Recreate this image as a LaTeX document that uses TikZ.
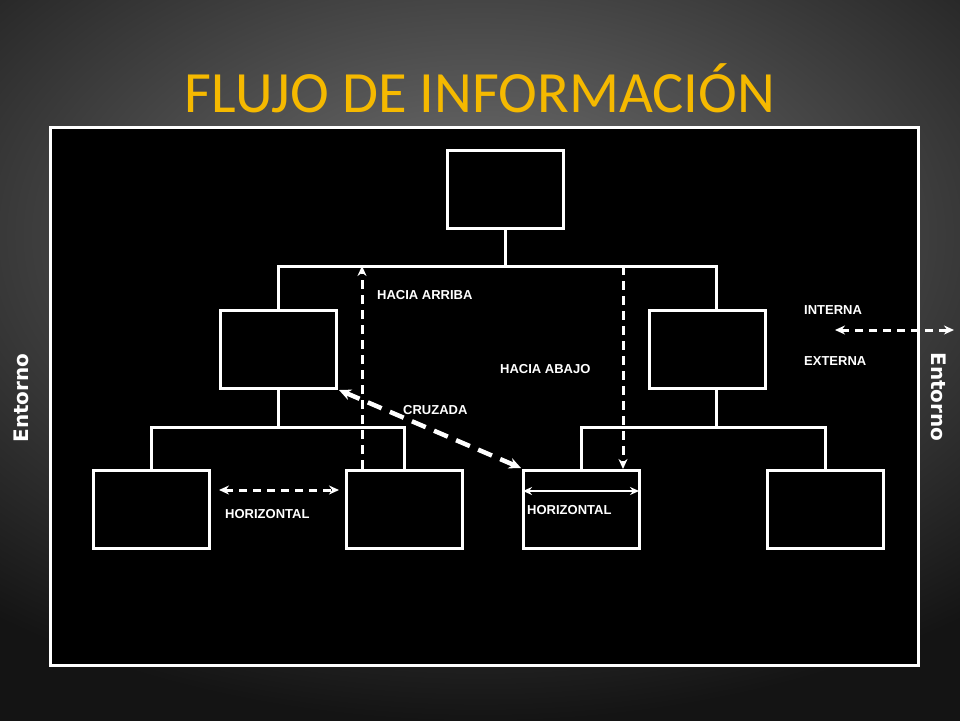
\documentclass[tikz,border=0pt]{standalone}
\usepackage{fontspec}
\setmainfont{DejaVu Sans}
\newfontfamily\titlefont{Carlito}
\newfontfamily\lblfont{Liberation Sans}
\usetikzlibrary{arrows.meta}
\begin{document}
\begin{tikzpicture}[x=1pt,y=-1pt,
  box/.style={draw=white,line width=3pt,fill=black,minimum width=116pt,minimum height=78pt,inner sep=0pt},
  tree/.style={draw=white,line width=3pt},
  dsh/.style={draw=white,line width=3pt,dash pattern=on 8pt off 6pt,{Stealth[length=10pt,width=9pt]}-{Stealth[length=10pt,width=9pt]}},
  lbl/.style={text=white,font=\lblfont\fontsize{13}{15}\selectfont\bfseries,anchor=west,inner sep=0pt},
  ent/.style={text=white,font=\fontsize{20}{24}\selectfont\bfseries,inner sep=0pt}]
\useasboundingbox (0,0) rectangle (960,720);
\shade[inner color=black!55,outer color=black!92] (-300,-250) rectangle (1260,720);
\node[text={rgb,255:red,245;green,185;blue,0},font=\titlefont\fontsize{58.5}{64}\selectfont] (title) at (480,88) {FLUJO DE INFORMACIÓN};
\draw[white,line width=3pt,fill=black] (50,127) rectangle (918,665);
\node[box] (t) at (505.5,189) {};
\node[box] (ml) at (278,349) {};
\node[box] (mr) at (707.5,349) {};
\node[box] (b1) at (151,509) {};
\node[box] (b2) at (404,509) {};
\node[box] (b3) at (581,509) {};
\node[box] (b4) at (825,509) {};
\coordinate (j1) at (505.5,266);
\coordinate (j2) at (278,427);
\coordinate (j3) at (716,427);
\draw[tree] (t.south) -- (j1);
\draw[tree] (ml.north) -- (278,266) -- (716,266) -- (716,309);
\draw[tree] (ml.south) -- (j2);
\draw[tree] (b1.north) -- (151,427) -- (404,427) -- (b2.north);
\draw[tree] (716,389) -- (j3);
\draw[tree] (b3.north) -- (581,427) -- (825,427) -- (b4.north);
\coordinate (ua) at (362,266);
\coordinate (ub) at (362,469);
\draw[white,line width=3pt,dash pattern=on 9pt off 6pt,-{Stealth[length=10pt,width=9pt]}] (ub) -- (ua);
\coordinate (da) at (623,266);
\coordinate (db) at (623,469);
\draw[white,line width=3pt,dash pattern=on 9pt off 6pt,-{Stealth[length=10pt,width=9pt]}] (da) -- (db);
\coordinate (ca) at (339,390);
\coordinate (cb) at (521,468);
\draw[white,line width=4.5pt,dash pattern=on 15pt off 9pt,{Stealth[length=12pt,width=11pt]}-{Stealth[length=12pt,width=11pt]}] (ca) -- (cb);
\coordinate (ha) at (219,490);
\coordinate (hb) at (339,490);
\draw[dsh] (ha) -- (hb);
\coordinate (hc) at (523,491);
\coordinate (hd) at (639,491);
\draw[white,line width=2.5pt,{Stealth[length=9pt,width=8pt]}-{Stealth[length=9pt,width=8pt]}] (hc) -- (hd);
\coordinate (ia) at (835,330);
\coordinate (ib) at (954,330);
\draw[dsh] (ia) -- (ib);
\node[lbl] (l1) at (377,295) {HACIA ARRIBA};
\node[lbl] (l2) at (500,369) {HACIA ABAJO};
\node[lbl] (l3) at (403,410) {CRUZADA};
\node[lbl] (l4) at (225,514) {HORIZONTAL};
\node[lbl] (l5) at (527,510) {HORIZONTAL};
\node[lbl] (l6) at (804,310) {INTERNA};
\node[lbl] (l7) at (804,361) {EXTERNA};
\node[ent,rotate=90] (e1) at (21,398) {Entorno};
\node[ent,rotate=-90] (e2) at (939,397) {Entorno};
\end{tikzpicture}
\end{document}
